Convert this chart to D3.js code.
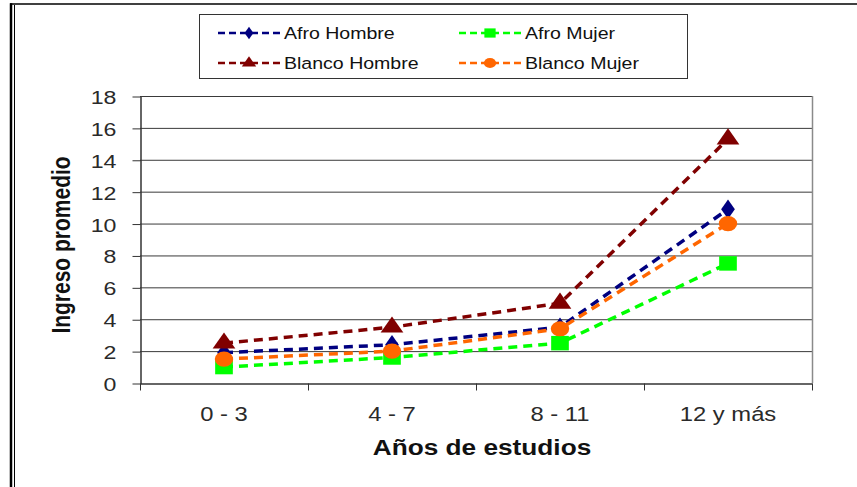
<!DOCTYPE html>
<html>
<head>
<meta charset="utf-8">
<script src="https://d3js.org/d3.v7.min.js"></script>
<style>
  body { margin: 0; background: #fff; }
  svg { display: block; font-family: "Liberation Sans", Arial, sans-serif; }
</style>
</head>
<body>
<div id="chart"></div>
<script>
// categories and series (ingreso promedio por años de estudio)
var categories = ["0 - 3", "4 - 7", "8 - 11", "12 y más"];
var afroHombre    = [1.9, 2.4, 3.5, 10.9];
var afroMujer     = [1.0, 1.6, 2.5, 7.5];
var blancoHombre  = [2.5, 3.5, 5.0, 15.3];
var blancoMujer   = [1.5, 2.0, 3.4, 10.0];
var yTicks = [0, 2, 4, 6, 8, 10, 12, 14, 16, 18];

var series = [
  {name: "Afro Hombre",   values: afroHombre,   color: "#000080", symbol: d3.symbolDiamond,  size: 110, lsize: 45},
  {name: "Afro Mujer",    values: afroMujer,    color: "#00ff00", symbol: d3.symbolSquare,   size: 210, lsize: 85},
  {name: "Blanco Hombre", values: blancoHombre, color: "#800000", symbol: d3.symbolTriangle, size: 150, lsize: 60},
  {name: "Blanco Mujer",  values: blancoMujer,  color: "#ff6600", symbol: d3.symbolCircle,   size: 180, lsize: 80}
];

var W = 857, H = 487;
var margin = {top: 96, right: 45, bottom: 104, left: 140};
var sx = 1.22; // the original picture is stretched horizontally

var svg = d3.select("#chart").append("svg")
  .attr("width", W).attr("height", H);

// outer frame (double line on the left)
svg.append("line").attr("x1", 10).attr("x2", W).attr("y1", 4).attr("y2", 4)
  .attr("stroke", "#000").attr("stroke-width", 1.5);
svg.append("line").attr("x1", 11).attr("x2", 11).attr("y1", 3.3).attr("y2", H)
  .attr("stroke", "#000").attr("stroke-width", 2.5);
svg.append("line").attr("x1", 14.5).attr("x2", 14.5).attr("y1", 5).attr("y2", H)
  .attr("stroke", "#000").attr("stroke-width", 1);

var x = d3.scaleBand().domain(categories).range([margin.left, W - margin.right]);
var y = d3.scaleLinear().domain([0, 18]).range([H - margin.bottom, margin.top]);

// gridlines
svg.append("g").selectAll("line.grid")
  .data(yTicks.slice(1)).enter().append("line")
    .attr("class", "grid")
    .attr("x1", margin.left).attr("x2", W - margin.right)
    .attr("y1", function(d){ return y(d) + 0.5; })
    .attr("y2", function(d){ return y(d) + 0.5; })
    .attr("stroke", "#3a3a3a").attr("stroke-width", 1);

// right border of plot area
svg.append("line")
  .attr("x1", W - margin.right + 0.5).attr("x2", W - margin.right + 0.5)
  .attr("y1", y(18)).attr("y2", y(0))
  .attr("stroke", "#8a8a8a").attr("stroke-width", 1.5);

// y axis
var yAxis = svg.append("g")
  .attr("transform", "translate(" + (margin.left + 0.5) + ",0.5)")
  .call(d3.axisLeft(y).tickValues(yTicks).tickSize(8).tickSizeOuter(0));
yAxis.select(".domain").attr("stroke", "#333").attr("stroke-width", 1.5);
yAxis.selectAll(".tick line").attr("stroke", "#333");
yAxis.selectAll(".tick text")
  .attr("x", null).attr("dy", null)
  .attr("transform", "translate(-24,7) scale(" + sx + ",1)")
  .attr("font-size", 19).attr("fill", "#2a2a2a")
  .style("font-family", "Liberation Sans, Arial, sans-serif");

// x axis (labels at band centers, ticks at band edges)
var xAxis = svg.append("g")
  .attr("transform", "translate(0," + (y(0) + 0.5) + ")")
  .call(d3.axisBottom(x).tickSize(0).tickSizeOuter(0));
xAxis.select(".domain").attr("stroke", "#333").attr("stroke-width", 1.5);
xAxis.selectAll(".tick text")
  .attr("y", null).attr("dy", null)
  .attr("transform", "translate(0,37) scale(" + sx + ",1)")
  .attr("font-size", 19.5).attr("fill", "#2a2a2a")
  .style("font-family", "Liberation Sans, Arial, sans-serif");
var edges = categories.map(function(c){ return x(c); }).concat([x.range()[1]]);
xAxis.selectAll("line.edge").data(edges).enter().append("line")
  .attr("class", "edge")
  .attr("x1", function(d){ return d + 0.5; }).attr("x2", function(d){ return d + 0.5; })
  .attr("y1", 0).attr("y2", 7)
  .attr("stroke", "#333");

// axis titles
svg.append("text")
  .attr("transform", "translate(" + 482 + "," + 455 + ") scale(" + sx + ",1)")
  .attr("text-anchor", "middle").attr("font-size", 21.5).attr("font-weight", "bold")
  .attr("fill", "#111").text("Años de estudios");
svg.append("text")
  .attr("transform", "translate(" + 70 + "," + 245 + ") scale(" + sx + ",1) rotate(-90)")
  .attr("text-anchor", "middle").attr("font-size", 21).attr("font-weight", "bold")
  .attr("fill", "#111").text("Ingreso promedio");

// lines and markers
var line = d3.line()
  .x(function(d, i){ return x(categories[i]) + x.bandwidth() / 2; })
  .y(function(d){ return y(d); });

var sg = svg.selectAll("g.series").data(series).enter().append("g").attr("class", "series");
sg.append("path")
  .attr("d", function(s){ return line(s.values); })
  .attr("fill", "none")
  .attr("stroke", function(s){ return s.color; })
  .attr("stroke-width", 3.5)
  .attr("stroke-dasharray", "9,6");
sg.selectAll("path.mk")
  .data(function(s){ return s.values.map(function(v, i){ return {v: v, i: i, s: s}; }); })
  .enter().append("path")
    .attr("class", "mk")
    .attr("transform", function(d){
      return "translate(" + (x(categories[d.i]) + x.bandwidth() / 2) + "," + y(d.v) + ") scale(" + sx + ",1)";
    })
    .attr("d", function(d){ return d3.symbol().type(d.s.symbol).size(d.s.size)(); })
    .attr("fill", function(d){ return d.s.color; });

// legend
var legend = svg.append("g");
legend.append("rect")
  .attr("x", 199.5).attr("y", 14.5).attr("width", 488).attr("height", 64)
  .attr("fill", "#fff").attr("stroke", "#333").attr("stroke-width", 1);
var legendPos = [
  {x: 218, y: 33}, {x: 459, y: 33},
  {x: 218, y: 63}, {x: 459, y: 63}
];
var li = legend.selectAll("g.item").data(series).enter().append("g")
  .attr("class", "item")
  .attr("transform", function(d, i){ return "translate(" + legendPos[i].x + "," + legendPos[i].y + ")"; });
li.append("line")
  .attr("x1", 0).attr("x2", 63).attr("y1", 0).attr("y2", 0)
  .attr("stroke", function(d){ return d.color; })
  .attr("stroke-width", 2.5).attr("stroke-dasharray", "7,4");
li.append("path")
  .attr("transform", "translate(31,0) scale(" + sx + ",1)")
  .attr("d", function(d){ return d3.symbol().type(d.symbol).size(d.lsize)(); })
  .attr("fill", function(d){ return d.color; });
li.append("text")
  .attr("transform", "translate(66,6) scale(1.15,1)")
  .attr("font-size", 17).attr("fill", "#111")
  .text(function(d){ return d.name; });
</script>
</body>
</html>
